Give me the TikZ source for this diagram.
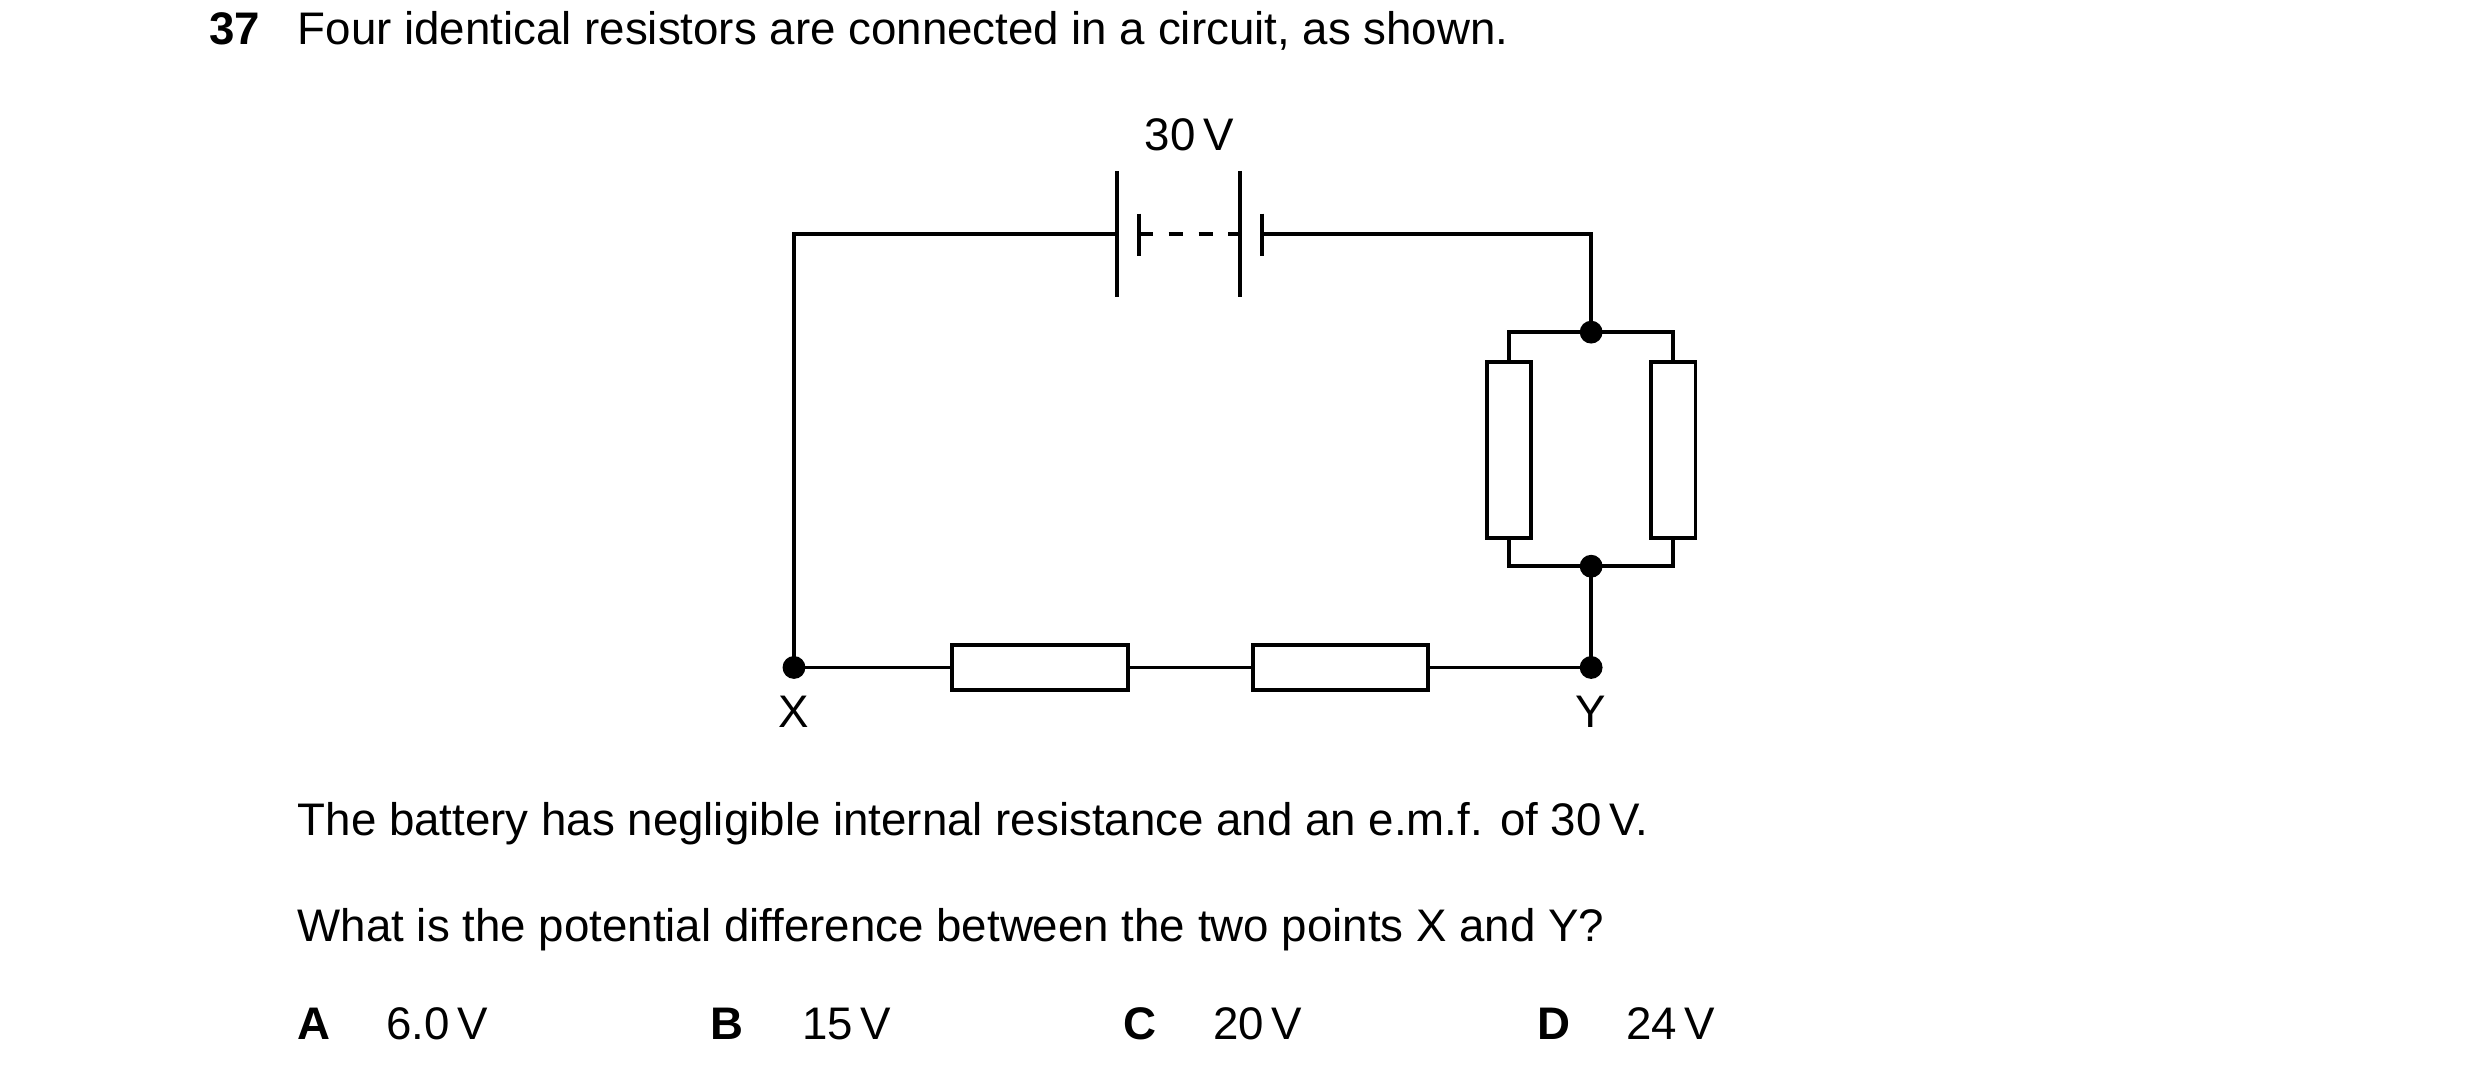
\documentclass[tikz,border=0pt]{standalone}
\usepackage{fontspec}
\setmainfont{Liberation Sans}
\usetikzlibrary{positioning}
\begin{document}
\begin{tikzpicture}[x=0.01582cm,y=-0.01582cm,line width=1.1pt,
  every node/.style={font=\fontsize{13}{15}\selectfont},
  txt/.style={anchor=base west,inner sep=0pt},
  res/.style={draw,fill=white,minimum width=#1},
  dot/.style={circle,fill,inner sep=0pt,minimum size=6.5pt}]
\useasboundingbox (0,0) rectangle (1568,683.5);
% question
\node[txt,font=\fontsize{13}{15}\selectfont\bfseries] (num) at (131,28) {37};
\node[txt] (q) at (187,28) {Four identical resistors are connected in a circuit, as shown.};
% nodes
\node[dot] (X) at (502,422) {};
\node[dot] (Y) at (1006,422) {};
\node[dot] (jt) at (1006,210) {};
\node[dot] (jb) at (1006,358) {};
\coordinate (tl) at (502,148);
\coordinate (tr) at (1006,148);
\coordinate (bl) at (706,148);
\coordinate (br) at (798,148);
\node[res=111*0.01582cm,minimum height=28*0.01582cm,inner sep=0pt] (r1) at (657.5,422) {};
\node[res=111*0.01582cm,minimum height=28*0.01582cm,inner sep=0pt] (r2) at (847.5,422) {};
\node[res=28*0.01582cm,minimum height=111*0.01582cm,inner sep=0pt] (r3) at (954,284.5) {};
\node[res=28*0.01582cm,minimum height=111*0.01582cm,inner sep=0pt] (r4) at (1058,284.5) {};
% wires
\draw (X.center) -- (tl) -- (bl);
\draw (br) -- (tr) -- (jt.center);
\draw (X.center) -- (r1) -- (r2) -- (Y.center);
\draw (Y.center) -- (jb.center);
\draw (r3.north) |- (jt.center) -| (r4.north);
\draw (r3.south) |- (jb.center) -| (r4.south);
% battery
\draw (706,108) -- (706,188);
\draw (720,135) -- (720,162);
\draw[dash pattern=on 4pt off 4.5pt] (720,148) -- (784,148);
\draw (784,108) -- (784,188);
\draw (798,135) -- (798,162);
\node (emf) at (752,85) {30\,V};
% labels
\node (lx) at (502,450) {X};
\node (ly) at (1006,450) {Y};
\node[txt] (t1) at (187,528) {The battery has negligible internal resistance and an e.m.f. of 30\,V.};
\node[txt] (t2) at (187,595) {What is the potential difference between the two points X and Y?};
\foreach \l/\v/\a/\b in {A/6.0\,V/187/243,B/15\,V/448/506,C/20\,V/709/766,D/24\,V/971/1027}{
  \node[txt,font=\fontsize{13}{15}\selectfont\bfseries] (o\l) at (\a,657) {\l};
  \node[txt] (v\l) at (\b,657) {\v};
}
\end{tikzpicture}
\end{document}
